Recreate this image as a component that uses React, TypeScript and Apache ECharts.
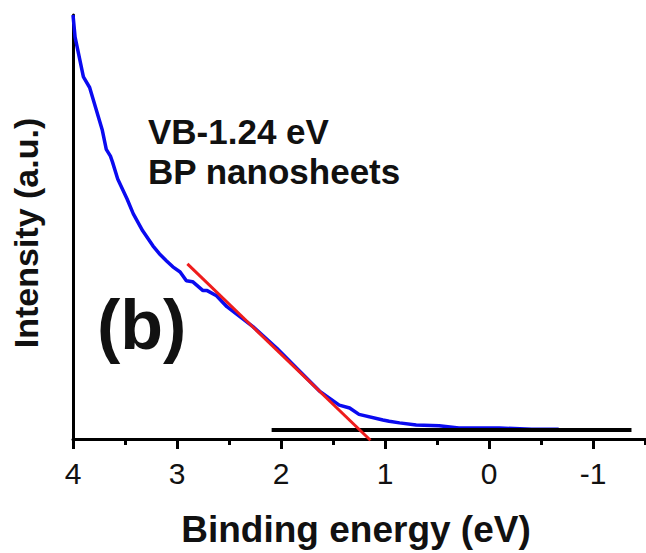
import React, { useEffect, useRef } from "react";
import * as echarts from "echarts";

// Valence-band XPS spectrum of BP nanosheets
const energy = [4.0, 3.98, 3.9, 3.84, 3.72, 3.68, 3.64, 3.62, 3.57, 3.48, 3.42, 3.33, 3.23, 3.17, 3.1, 3.04, 2.97, 2.91, 2.85, 2.75, 2.71, 2.62, 2.52, 2.27, 2.04, 1.82, 1.63, 1.44, 1.34, 1.25, 1.02, 0.96, 0.86, 0.7, 0.48, 0.29, -0.1, -0.41, -0.67];
const intensity = [100, 94.8, 85.4, 82.9, 73.0, 68.3, 66.7, 65.3, 61.3, 56.6, 53.1, 49.1, 45.5, 43.7, 42.0, 40.6, 39.4, 37.3, 37.1, 35.0, 35.0, 33.8, 31.2, 26.5, 21.4, 16.0, 11.3, 8.0, 7.3, 5.8, 4.5, 4.2, 3.8, 3.3, 3.1, 2.6, 2.6, 2.3, 2.3];

// Linear fit of the leading edge and the background level
const fitEnergy = [2.9, 1.14];
const fitIntensity = [41.3, -0.3];
const baseEnergy = [2.09, -1.37];
const baseIntensity = [2.1, 2.1];

const xTicks = [4, 3, 2, 1, 0, -1];

const FONT = "Liberation Sans, Arial, sans-serif";

const pairs = (xs: number[], ys: number[]) => xs.map((x, i) => [x, ys[i]]);

export default function App() {
  const ref = useRef<HTMLDivElement>(null);

  useEffect(() => {
    if (!ref.current) return;
    const chart = echarts.init(ref.current, null, { renderer: "svg" });
    chart.setOption({
      animation: false,
      backgroundColor: "#ffffff",
      // the energy axis runs on past the right edge of the visible frame
      grid: { left: 73, right: 0, top: 15, bottom: 112, containLabel: false },
      xAxis: {
        type: "value",
        inverse: true,
        min: -2,
        max: 4,
        interval: 1,
        name: "Binding energy (eV)",
        nameLocation: "middle",
        nameGap: 72,
        nameTextStyle: {
          fontFamily: FONT,
          fontSize: 37,
          fontWeight: "bold",
          color: "#111",
          padding: [0, 0, 0, -58],
        },
        axisLine: { show: true, onZero: false, lineStyle: { color: "#000", width: 3 } },
        axisTick: { show: true, inside: false, length: 10, lineStyle: { color: "#000", width: 3 } },
        minorTick: { show: true, splitNumber: 2, length: 6, lineStyle: { color: "#000", width: 3 } },
        axisLabel: {
          margin: 19,
          fontFamily: FONT,
          fontSize: 30,
          color: "#111",
          formatter: (v: number) => (xTicks.includes(v) ? String(v) : ""),
        },
        splitLine: { show: false },
        minorSplitLine: { show: false },
      },
      yAxis: {
        type: "value",
        min: 0,
        max: 100,
        name: "Intensity (a.u.)",
        nameLocation: "middle",
        nameGap: 30,
        nameTextStyle: {
          fontFamily: FONT,
          fontSize: 34,
          fontWeight: "bold",
          color: "#111",
          padding: [0, 0, 0, -12],
        },
        axisLine: { show: true, onZero: false, lineStyle: { color: "#000", width: 3 } },
        axisTick: { show: false },
        axisLabel: { show: false },
        splitLine: { show: false },
      },
      series: [
        {
          type: "line",
          data: pairs(energy, intensity),
          showSymbol: false,
          lineStyle: { color: "#0a0af0", width: 3.5 },
          z: 2,
        },
        {
          type: "line",
          data: pairs(baseEnergy, baseIntensity),
          showSymbol: false,
          lineStyle: { color: "#000", width: 4 },
          z: 3,
        },
        {
          type: "line",
          data: pairs(fitEnergy, fitIntensity),
          showSymbol: false,
          clip: false,
          lineStyle: { color: "#ee1c1c", width: 3 },
          z: 4,
        },
      ],
      graphic: [
        {
          type: "text",
          left: 148,
          top: 114,
          style: { text: "VB-1.24 eV", font: `bold 35px ${FONT}`, fill: "#111" },
        },
        {
          type: "text",
          left: 148,
          top: 154,
          style: { text: "BP nanosheets", font: `bold 35px ${FONT}`, fill: "#111" },
        },
        {
          type: "text",
          left: 97,
          top: 290,
          style: { text: "(b)", font: `bold 70px ${FONT}`, fill: "#111" },
        },
      ],
    });
    return () => chart.dispose();
  }, []);

  return (
    <div style={{ position: "absolute", left: 0, top: 0, width: 646, height: 553, overflow: "hidden", background: "#fff" }}>
      <div ref={ref} style={{ width: 700, height: 553 }} />
    </div>
  );
}
